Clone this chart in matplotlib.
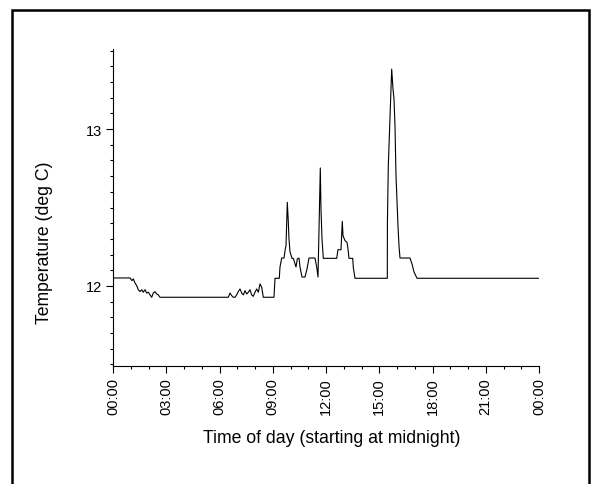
import numpy as np
import matplotlib
matplotlib.use("Agg")
import matplotlib.pyplot as plt
from matplotlib.patches import Rectangle
from matplotlib.ticker import MultipleLocator, FuncFormatter

plt.rcParams["font.family"] = ["Liberation Sans", "DejaVu Sans"]

# hours since midnight
hours = [
    0.000, 0.958, 1.070, 1.144, 1.239, 1.335, 1.425, 1.521, 1.617, 1.707,
    1.803, 1.899, 1.989, 2.085, 2.180, 2.270, 2.366, 2.462, 2.552, 2.648,
    6.496, 6.592, 6.687, 6.777, 6.873, 6.969, 7.059, 7.155, 7.251, 7.341,
    7.437, 7.532, 7.623, 7.718, 7.814, 7.904, 8.000, 8.096, 8.186, 8.282,
    8.377, 8.468, 9.070, 9.127, 9.369, 9.408, 9.504, 9.634, 9.707, 9.746,
    9.820, 9.876, 9.915, 9.972, 10.085, 10.158, 10.310, 10.383, 10.479, 10.535,
    10.648, 10.817, 10.930, 11.042, 11.380, 11.476, 11.549, 11.679, 11.718, 11.775,
    11.848, 12.603, 12.676, 12.845, 12.918, 12.958, 13.070, 13.183, 13.239, 13.296,
    13.504, 13.538, 13.634, 15.454, 15.460, 15.510, 15.701, 15.775, 15.831, 15.887,
    15.944, 16.056, 16.113, 16.169, 16.732, 16.845, 16.958, 17.127, 24.000,
]

# temperature (deg C)
temps = [
    12.051, 12.051, 12.034, 12.045, 12.019, 12.002, 11.976, 11.964, 11.976, 11.960,
    11.976, 11.955, 11.960, 11.943, 11.928, 11.955, 11.964, 11.949, 11.943, 11.928,
    11.928, 11.955, 11.938, 11.928, 11.928, 11.943, 11.964, 11.981, 11.955, 11.943,
    11.970, 11.949, 11.960, 11.976, 11.943, 11.934, 11.960, 11.981, 11.960, 12.013,
    11.992, 11.928, 11.928, 12.049, 12.049, 12.121, 12.178, 12.178, 12.236, 12.257,
    12.533, 12.408, 12.299, 12.217, 12.176, 12.176, 12.121, 12.172, 12.178, 12.121,
    12.057, 12.057, 12.108, 12.178, 12.178, 12.121, 12.057, 12.752, 12.490, 12.299,
    12.176, 12.176, 12.231, 12.231, 12.412, 12.320, 12.289, 12.278, 12.236, 12.176,
    12.176, 12.119, 12.049, 12.049, 12.408, 12.764, 13.382, 13.255, 13.191, 13.019,
    12.701, 12.382, 12.255, 12.178, 12.178, 12.140, 12.089, 12.049, 12.049,
]

fig = plt.figure(figsize=(5.93, 4.85), dpi=100)
ax = fig.add_axes([113 / 593, 1 - 367 / 485, 426 / 593, 317 / 485])

ax.plot(hours, temps, color="black", linewidth=0.8)

ax.set_xlim(0, 24)
ax.set_ylim(11.49, 13.51)

ax.spines["top"].set_visible(False)
ax.spines["right"].set_visible(False)
ax.spines["left"].set_linewidth(0.8)
ax.spines["bottom"].set_linewidth(0.8)

ax.xaxis.set_major_locator(MultipleLocator(3))
ax.xaxis.set_minor_locator(MultipleLocator(1))
ax.xaxis.set_major_formatter(FuncFormatter(lambda v, p: f"{int(round(v)) % 24:02d}:00"))
ax.yaxis.set_major_locator(MultipleLocator(1))
ax.yaxis.set_minor_locator(MultipleLocator(0.1))
ax.yaxis.set_major_formatter(FuncFormatter(lambda v, p: f"{v:.0f}"))

ax.tick_params(which="major", length=5, width=0.8, labelsize=10.5, pad=3)
ax.tick_params(which="minor", length=2.5, width=0.8)
plt.setp(ax.get_xticklabels(), rotation=90)

ax.set_xlabel("Time of day (starting at midnight)", fontsize=12.7)
ax.set_ylabel("Temperature (deg C)", fontsize=12.7)
ax.xaxis.set_label_coords(219 / 426, -63 / 317)
ax.yaxis.set_label_coords(-60 / 426, 124 / 317)

fig.patches.append(Rectangle((12 / 593, -0.02), 577 / 593, 1.02 - 11 / 485,
                             transform=fig.transFigure, fill=False,
                             edgecolor="black", linewidth=1.8))

fig.savefig("out.png", dpi=100)
